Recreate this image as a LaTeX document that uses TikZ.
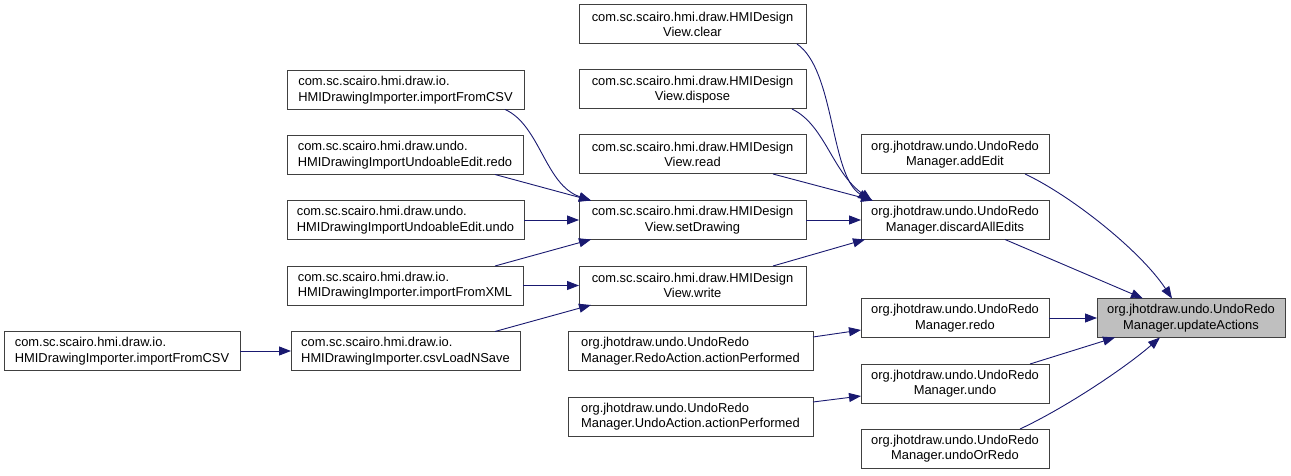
\documentclass[tikz,border=0pt]{standalone}
\usepackage{fontspec}
\usetikzlibrary{arrows.meta}
\newfontfamily\graphfont{Liberation Sans}
\definecolor{edgeblue}{HTML}{191970}
\definecolor{boxline}{HTML}{404040}
\definecolor{focusfill}{HTML}{BFBFBF}
\tikzset{
  fn/.style={draw=boxline, line width=1pt, fill=white, inner sep=0pt, outer sep=0pt,
    minimum height=39pt, align=center, font=\graphfont\fontsize{12.9}{15.5}\selectfont},
  fnl/.style={fn, align=left},
  call/.style={draw=edgeblue, line width=0.9pt, -{Triangle[length=12pt,width=9pt]}}
}
\begin{document}
\begin{tikzpicture}[x=1pt,y=-1pt]
		\useasboundingbox (0,0) rectangle (1291,476);
		\node[fn, minimum width=227pt] (clear) at (692.5,24.5) {com.sc.scairo.hmi.draw.HMIDesign\\View.clear};
		\node[fn, minimum width=227pt] (dispose) at (692.5,89.5) {com.sc.scairo.hmi.draw.HMIDesign\\View.dispose};
		\node[fn, minimum width=227pt] (read) at (692.5,154.5) {com.sc.scairo.hmi.draw.HMIDesign\\View.read};
		\node[fn, minimum width=227pt] (setdraw) at (692.5,220) {com.sc.scairo.hmi.draw.HMIDesign\\View.setDrawing};
		\node[fn, minimum width=227pt] (write) at (692.5,285.5) {com.sc.scairo.hmi.draw.HMIDesign\\View.write};
		\node[fnl, minimum width=237pt] (csvimp) at (405.5,90) {com.sc.scairo.hmi.draw.io.\\HMIDrawingImporter.importFromCSV};
		\node[fnl, minimum width=236pt] (editredo) at (405,155) {com.sc.scairo.hmi.draw.undo.\\HMIDrawingImportUndoableEdit.redo};
		\node[fnl, minimum width=237pt] (editundo) at (405.5,220) {com.sc.scairo.hmi.draw.undo.\\HMIDrawingImportUndoableEdit.undo};
		\node[fnl, minimum width=236pt] (xmlimp) at (405,285.5) {com.sc.scairo.hmi.draw.io.\\HMIDrawingImporter.importFromXML};
		\node[fnl, minimum width=229pt] (csvsave) at (405.5,351) {com.sc.scairo.hmi.draw.io.\\HMIDrawingImporter.csvLoadNSave};
		\node[fnl, minimum width=236pt] (csvfirst) at (122,351) {com.sc.scairo.hmi.draw.io.\\HMIDrawingImporter.importFromCSV};
		\node[fnl, minimum width=245pt] (redoact) at (690.5,351) {org.jhotdraw.undo.UndoRedo\\Manager.RedoAction.actionPerformed};
		\node[fnl, minimum width=245pt] (undoact) at (690.5,416.5) {org.jhotdraw.undo.UndoRedo\\Manager.UndoAction.actionPerformed};
		\node[fn, minimum width=188pt] (addedit) at (955,154.5) {org.jhotdraw.undo.UndoRedo\\Manager.addEdit};
		\node[fn, minimum width=188pt] (discard) at (955,220) {org.jhotdraw.undo.UndoRedo\\Manager.discardAllEdits};
		\node[fn, minimum width=188pt] (redo) at (955,318) {org.jhotdraw.undo.UndoRedo\\Manager.redo};
		\node[fn, minimum width=188pt] (undo) at (955,383.5) {org.jhotdraw.undo.UndoRedo\\Manager.undo};
		\node[fn, minimum width=188pt] (undoredo) at (955,448.5) {org.jhotdraw.undo.UndoRedo\\Manager.undoOrRedo};
		\node[fn, minimum width=188pt, fill=focusfill] (update) at (1191,318) {org.jhotdraw.undo.UndoRedo\\Manager.updateActions};
		\draw[call] ([xshift=-9pt]clear.south east) .. controls (835,70) and (830,175) .. ([xshift=9pt]discard.north west);
		\draw[call] ([xshift=-14pt]dispose.south east) .. controls (825,125) and (832,172) .. ([xshift=11pt]discard.north west);
		\draw[call] ([xshift=-33pt]read.south east) -- ([xshift=12pt]discard.north west);
		\draw[call] (setdraw.east) -- (discard.west);
		\draw[call] ([xshift=-33pt]write.north east) -- ([xshift=4pt]discard.south west);
		\draw[call] ([xshift=-19pt]csvimp.south east) .. controls (540,125) and (545,185) .. ([xshift=12pt]setdraw.north west);
		\draw[call] ([xshift=-28pt]editredo.south east) -- ([xshift=12pt]setdraw.north west);
		\draw[call] (editundo.east) -- (setdraw.west);
		\draw[call] ([xshift=-28pt]xmlimp.north east) -- ([xshift=12pt]setdraw.south west);
		\draw[call] (xmlimp.east) -- (write.west);
		\draw[call] ([xshift=-25pt]csvsave.north east) -- ([xshift=12pt]write.south west);
		\draw[call] (csvfirst.east) -- (csvsave.west);
		\draw[call] ([xshift=-24pt]addedit.south east) .. controls (1070,195) and (1140,250) .. ([xshift=75pt]update.north west);
		\draw[call] ([xshift=-44pt]discard.south east) -- ([xshift=46pt]update.north west);
		\draw[call] (redo.east) -- (update.west);
		\draw[call] ([xshift=-19pt]undo.north east) -- ([xshift=18pt]update.south west);
		\draw[call] ([xshift=-29pt]undoredo.north east) .. controls (1065,408) and (1125,368) .. ([xshift=63pt]update.south west);
		\draw[call] ([yshift=14pt]redoact.east) -- ([yshift=-12pt]redo.west);
		\draw[call] ([yshift=14.5pt]undoact.east) -- ([yshift=-12.5pt]undo.west);
\end{tikzpicture}
\end{document}
